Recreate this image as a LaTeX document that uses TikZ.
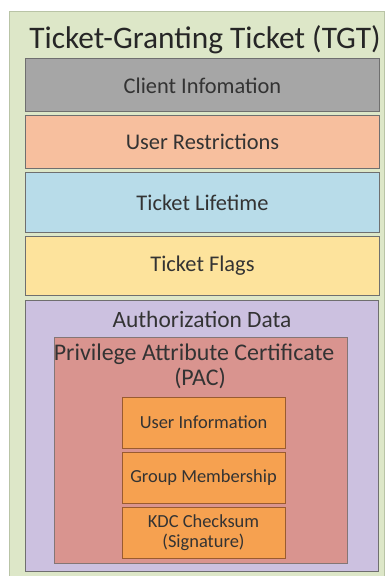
\documentclass[tikz,border=0pt]{standalone}
\usepackage{fontspec}
\setmainfont{Carlito}
\definecolor{bggreen}{HTML}{DDE7C8}
\definecolor{bgedge}{HTML}{B9C4A6}
\definecolor{cgray}{HTML}{A6A6A6}
\definecolor{csalmon}{HTML}{F7BF9E}
\definecolor{cblue}{HTML}{B8DCE9}
\definecolor{cyellow}{HTML}{FDE39C}
\definecolor{clav}{HTML}{CCC1E0}
\definecolor{cpac}{HTML}{D9948F}
\definecolor{corange}{HTML}{F6A150}
\definecolor{cedge}{HTML}{6F6F6F}
\definecolor{oedge}{HTML}{9A5B30}
\definecolor{txt}{HTML}{333333}
\begin{document}
\begin{tikzpicture}[x=1bp,y=-1bp,
  band/.style={draw=cedge,line width=1bp,minimum width=353bp,inner sep=0pt,
    font=\fontsize{22.5}{26}\selectfont,text=txt},
  inbox/.style={draw=oedge,line width=1bp,fill=corange,minimum width=163bp,
    minimum height=51bp,inner sep=0pt,align=center,
    font=\fontsize{18.5}{20}\selectfont,text=txt},
  lbl/.style={inner sep=0pt,anchor=base,text=txt}]
\useasboundingbox (0,0) rectangle (384,576);
\fill[white] (0,0) rectangle (384,576);
\node[draw=bgedge,fill=bggreen,line width=1bp,minimum width=374bp,minimum height=564bp,inner sep=0pt] (tgt) at (197,294) {};
\node[lbl,font=\fontsize{31.5}{34}\selectfont,text=black!85] (title) at (205,49) {Ticket-Granting Ticket (TGT)};
\node[band,fill=cgray,minimum height=53bp] (ci) at (202.5,85.5) {Client Infomation};
\node[band,fill=csalmon,minimum height=52bp] (ur) at (202.5,142) {User Restrictions};
\node[band,fill=cblue,minimum height=59bp] (tl) at (202.5,202.5) {Ticket Lifetime};
\node[band,fill=cyellow,minimum height=59bp] (tf) at (202.5,265.5) {Ticket Flags};
\node[band,fill=clav,minimum width=352bp,minimum height=271bp] (ad) at (202,435.5) {};
\node[lbl,font=\fontsize{23.5}{26}\selectfont] (adl) at (202,327) {Authorization Data};
\node[draw=cedge!80!cpac,line width=1bp,fill=cpac,minimum width=292bp,minimum height=226bp,inner sep=0pt] (pac) at (201,450) {};
\node[lbl,font=\fontsize{24}{26}\selectfont] (pacl1) at (194,360) {Privilege Attribute Certificate};
\node[lbl,font=\fontsize{24}{26}\selectfont] (pacl2) at (200,385) {(PAC)};
\node[inbox] (ui) at (203.5,422.5) {User Information};
\node[inbox] (gm) at (203.5,477.5) {Group Membership};
\node[inbox] (kdc) at (203.5,532.5) {KDC Checksum\\(Signature)};
\end{tikzpicture}
\end{document}
